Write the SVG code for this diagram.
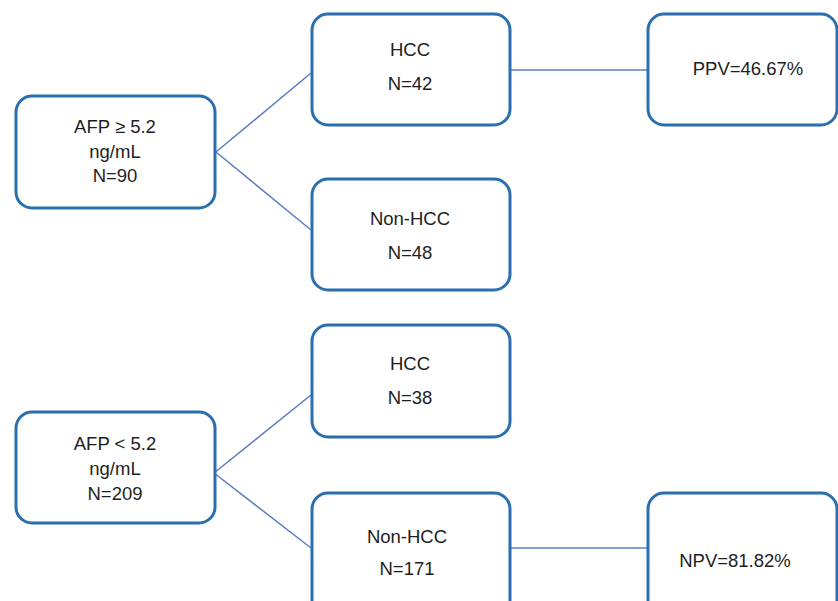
<svg xmlns="http://www.w3.org/2000/svg" width="838" height="601" viewBox="0 0 838 601">
<style>
.box{fill:#ffffff;stroke:#2b6fae;stroke-width:3}
.t{font-family:"Liberation Sans",Arial,sans-serif;font-size:18.5px;fill:#1e1e1e;text-anchor:middle}
.c{stroke:#5b7cc4;stroke-width:1.5;fill:none}
</style>
<rect width="838" height="601" fill="#ffffff"/>
<g id="connectors">
<line class="c" x1="216" y1="152" x2="311" y2="73"/>
<line class="c" x1="216" y1="152" x2="311" y2="230"/>
<line class="c" x1="510" y1="70" x2="648" y2="70"/>
<line class="c" x1="214" y1="473" x2="311" y2="395"/>
<line class="c" x1="214" y1="473" x2="311" y2="548"/>
<line class="c" x1="510" y1="548" x2="648" y2="548"/>
</g>
<g id="afp_high">
<rect class="box" x="16" y="96" width="199" height="112" rx="16"/>
<text class="t" x="115" y="133">AFP ≥ 5.2</text>
<text class="t" x="115" y="158">ng/mL</text>
<text class="t" x="115" y="182">N=90</text>
</g>
<g id="hcc_high">
<rect class="box" x="312" y="14" width="198" height="111" rx="16"/>
<text class="t" x="410" y="56">HCC</text>
<text class="t" x="410" y="90">N=42</text>
</g>
<g id="nonhcc_high">
<rect class="box" x="312" y="179" width="198" height="111" rx="16"/>
<text class="t" x="410" y="225">Non-HCC</text>
<text class="t" x="410" y="259">N=48</text>
</g>
<g id="ppv">
<rect class="box" x="648" y="14" width="189" height="111" rx="16"/>
<text class="t" x="748" y="75">PPV=46.67%</text>
</g>
<g id="afp_low">
<rect class="box" x="16" y="412" width="199" height="111" rx="16"/>
<text class="t" x="115" y="450">AFP &lt; 5.2</text>
<text class="t" x="115" y="475">ng/mL</text>
<text class="t" x="115" y="500">N=209</text>
</g>
<g id="hcc_low">
<rect class="box" x="312" y="325" width="198" height="112" rx="16"/>
<text class="t" x="410" y="370">HCC</text>
<text class="t" x="410" y="404">N=38</text>
</g>
<g id="nonhcc_low">
<rect class="box" x="312" y="493" width="198" height="125" rx="16"/>
<text class="t" x="407" y="543">Non-HCC</text>
<text class="t" x="407" y="575">N=171</text>
</g>
<g id="npv">
<rect class="box" x="648" y="493" width="189" height="125" rx="16"/>
<text class="t" x="735" y="567">NPV=81.82%</text>
</g>
</svg>
